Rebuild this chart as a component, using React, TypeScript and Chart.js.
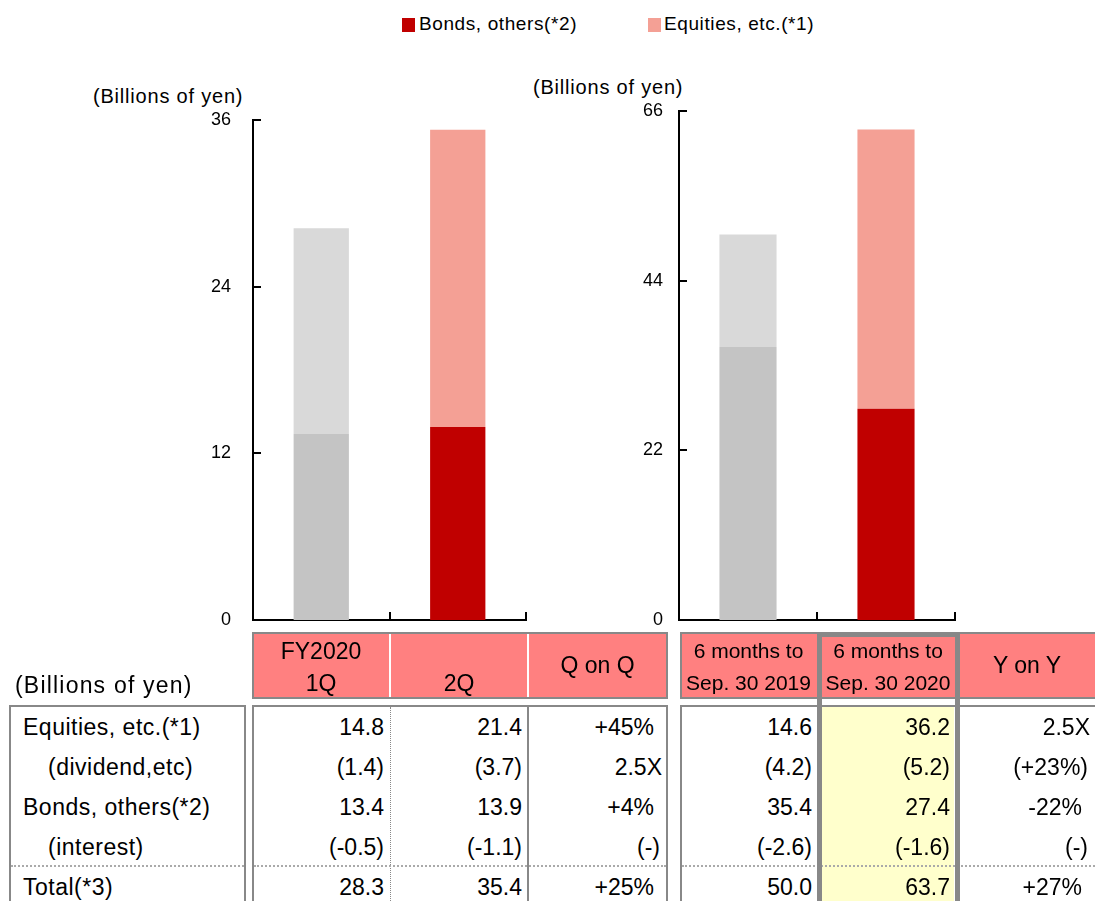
import React, { useEffect, useRef } from "react";
import { Chart, registerables } from "chart.js";

Chart.register(...registerables);

// ---------- data ----------
const legendLabels = ["Bonds, others(*2)", "Equities, etc.(*1)"];
const unitLabel = "(Billions of yen)";

const quarterLabels = ["FY2020 1Q", "2Q"];
const quarterBonds = [13.4, 13.9];
const quarterEquities = [14.8, 21.4];
const quarterMax = 36;
const quarterStep = 12;

const halfLabels = ["6 months to Sep. 30 2019", "6 months to Sep. 30 2020"];
const halfBonds = [35.4, 27.4];
const halfEquities = [14.6, 36.2];
const halfMax = 66;
const halfStep = 22;

const rowLabels = ["Equities, etc.(*1)", "(dividend,etc)", "Bonds, others(*2)", "(interest)", "Total(*3)"];
const rowIndented = [false, true, false, true, false];
const col1Q = ["14.8", "(1.4)", "13.4", "(-0.5)", "28.3"];
const col2Q = ["21.4", "(3.7)", "13.9", "(-1.1)", "35.4"];
const colQoQ = ["+45%", "2.5X", "+4%", "(-)", "+25%"];
const col2019 = ["14.6", "(4.2)", "35.4", "(-2.6)", "50.0"];
const col2020 = ["36.2", "(5.2)", "27.4", "(-1.6)", "63.7"];
const colYoY = ["2.5X", "(+23%)", "-22%", "(-)", "+27%"];
const headerLines = [
  ["FY2020", "1Q"],
  ["", "2Q"],
  ["Q on Q"],
  ["6 months to", "Sep. 30 2019"],
  ["6 months to", "Sep. 30 2020"],
  ["Y on Y"],
];

// ---------- style ----------
const FONT = '"Liberation Sans", Arial, Helvetica, sans-serif';
const GREY_DARK = "#C4C4C4";
const GREY_LIGHT = "#D9D9D9";
const RED = "#C00000";
const PINK = "#F4A095";
const HEADER_PINK = "#FF8080";
const BORDER = "#888888";
const YELLOW = "#FFFFCC";

const innerTicks = {
  id: "innerTicks",
  afterDraw(chart: any) {
    const { ctx, chartArea: a, scales } = chart;
    const ys = scales.y;
    const xs = scales.x;
    ctx.save();
    ctx.strokeStyle = "#000";
    ctx.lineWidth = 2;
    ctx.beginPath();
    ys.ticks.forEach((_t: any, i: number) => {
      const py = Math.round(ys.getPixelForTick(i));
      ctx.moveTo(a.left, py);
      ctx.lineTo(a.left + 8, py);
    });
    const n = chart.data.labels.length;
    const w = (a.right - a.left) / n;
    for (let i = 0; i < n; i++) {
      const px = Math.round(xs.getPixelForValue(i) + w / 2);
      ctx.moveTo(px, a.bottom);
      ctx.lineTo(px, a.bottom - 8);
    }
    ctx.stroke();
    ctx.restore();
  },
};

type ChartProps = {
  labels: string[];
  bonds: number[];
  equities: number[];
  bondColors: string[];
  equityColors: string[];
  max: number;
  step: number;
  left: number;
  top: number;
  width: number;
  height: number;
  axisWidth: number;
  tickPad: number;
  padTop: number;
  padRight: number;
  barPct: number;
};

function StackedChart(p: ChartProps) {
  const ref = useRef<HTMLCanvasElement>(null);
  useEffect(() => {
    const chart = new Chart(ref.current as HTMLCanvasElement, {
      type: "bar",
      data: {
        labels: p.labels,
        datasets: [
          {
            label: legendLabels[0],
            data: p.bonds,
            backgroundColor: p.bondColors,
            borderWidth: 0,
            barPercentage: p.barPct,
            categoryPercentage: 1,
          },
          {
            label: legendLabels[1],
            data: p.equities,
            backgroundColor: p.equityColors,
            borderWidth: 0,
            barPercentage: p.barPct,
            categoryPercentage: 1,
          },
        ],
      },
      options: {
        responsive: false,
        maintainAspectRatio: false,
        animation: false,
        layout: { padding: { top: p.padTop, right: p.padRight, left: 0, bottom: 0 } },
        plugins: { legend: { display: false }, tooltip: { enabled: false } },
        scales: {
          x: {
            stacked: true,
            z: 1,
            grid: { display: false, drawTicks: false },
            border: { display: true, color: "#000", width: 2 },
            ticks: { display: false },
            afterFit: (s: any) => {
              s.height = 15;
              s.paddingLeft = 0;
              s.paddingRight = 0;
            },
          },
          y: {
            stacked: true,
            z: 1,
            min: 0,
            max: p.max,
            ticks: {
              stepSize: p.step,
              padding: p.tickPad,
              color: "#000",
              font: { family: FONT, size: 18 },
            },
            grid: { display: false, drawTicks: false },
            border: { display: true, color: "#000", width: 2 },
            afterFit: (s: any) => {
              s.width = p.axisWidth;
              s.paddingTop = 0;
              s.paddingBottom = 0;
            },
          },
        },
      } as any,
      plugins: [innerTicks],
    });
    return () => chart.destroy();
  }, []);
  return (
    <canvas
      ref={ref}
      width={p.width}
      height={p.height}
      style={{ position: "absolute", left: p.left, top: p.top, width: p.width, height: p.height }}
    />
  );
}

type TProps = { x: number; y: number; text: string; align?: "left" | "right" | "center"; size?: number; ls?: number };
function T({ x, y, text, align = "left", size = 23, ls = 0 }: TProps) {
  const lh = Math.round(size * 1.15);
  const w = 400;
  const left = align === "left" ? x : align === "right" ? x - w : x - w / 2;
  return (
    <div
      style={{
        position: "absolute",
        left,
        top: y - lh / 2,
        width: w,
        height: lh,
        lineHeight: lh + "px",
        fontSize: size,
        textAlign: align,
        whiteSpace: "pre",
        letterSpacing: ls,
        color: "#000",
      }}
    >
      {text}
    </div>
  );
}

function Box(props: { l: number; t: number; w: number; h: number; style?: React.CSSProperties }) {
  return (
    <div
      style={{
        position: "absolute",
        left: props.l,
        top: props.t,
        width: props.w,
        height: props.h,
        boxSizing: "border-box",
        ...props.style,
      }}
    />
  );
}

export default function App() {
  const columns = [col1Q, col2Q, colQoQ, col2019, col2020, colYoY];
  const ratioCol = [false, false, true, false, false, true];
  const colRight = [384, 522, 662, 812, 950, 1090];
  const headerCenters = [321, 459, 597.5, 748.5, 888, 1027];
  const rowY = [727, 767, 807, 847, 887];

  const offsetFor = (v: string, ratio: boolean) => {
    if (!ratio) return 0;
    if (v.endsWith("%")) return 8;
    if (v.endsWith(")")) return 2;
    return 0;
  };

  return (
    <div
      style={{
        position: "absolute",
        left: 0,
        top: 0,
        width: 1095,
        height: 901,
        overflow: "hidden",
        background: "#fff",
        fontFamily: FONT,
      }}
    >
      {/* legend */}
      <Box l={402} t={18} w={13} h={14} style={{ background: RED }} />
      <T x={419} y={24} text={legendLabels[0]} size={19} ls={0.6} />
      <Box l={648} t={18} w={13} h={14} style={{ background: PINK }} />
      <T x={664} y={24} text={legendLabels[1]} size={19} ls={0.6} />

      {/* unit labels */}
      <T x={93} y={96} text={unitLabel} size={20} ls={0.8} />
      <T x={533} y={87} text={unitLabel} size={20} ls={0.8} />

      <StackedChart
        labels={quarterLabels}
        bonds={quarterBonds}
        equities={quarterEquities}
        bondColors={[GREY_DARK, RED]}
        equityColors={[GREY_LIGHT, PINK]}
        max={quarterMax}
        step={quarterStep}
        left={163}
        top={105}
        width={380}
        height={530}
        axisWidth={90}
        tickPad={22}
        padTop={15}
        padRight={17}
        barPct={0.405}
      />
      <StackedChart
        labels={halfLabels}
        bonds={halfBonds}
        equities={halfEquities}
        bondColors={[GREY_DARK, RED]}
        equityColors={[GREY_LIGHT, PINK]}
        max={halfMax}
        step={halfStep}
        left={589}
        top={96}
        width={385}
        height={539}
        axisWidth={90}
        tickPad={16}
        padTop={15}
        padRight={19}
        barPct={0.414}
      />

      {/* table header */}
      <Box l={252} t={632} w={416} h={67} style={{ background: HEADER_PINK, border: `2px solid ${BORDER}` }} />
      <Box l={389} t={634} w={2} h={63} style={{ background: "#fff" }} />
      <Box l={527} t={634} w={2} h={63} style={{ background: "#fff" }} />
      <Box l={680} t={632} w={430} h={67} style={{ background: HEADER_PINK, border: `2px solid ${BORDER}` }} />
      <T x={15} y={685} text={unitLabel} size={23} ls={1.2} />

      {/* table body boxes */}
      <Box l={9} t={705} w={237} h={300} style={{ border: `2px solid ${BORDER}` }} />
      <Box l={252} t={705} w={416} h={300} style={{ border: `2px solid ${BORDER}` }} />
      <Box l={680} t={705} w={430} h={300} style={{ border: `2px solid ${BORDER}` }} />
      <Box l={822} t={707} w={132} h={200} style={{ background: YELLOW }} />
      <Box l={390} t={707} w={1} h={200} style={{ borderLeft: `1px dotted ${BORDER}` }} />
      <Box l={527} t={707} w={2} h={200} style={{ background: BORDER }} />
      <Box l={11} t={865} w={233} h={2} style={{ borderTop: "2px dotted #aaa" }} />
      <Box l={254} t={865} w={412} h={2} style={{ borderTop: "2px dotted #aaa" }} />
      <Box l={682} t={865} w={420} h={2} style={{ borderTop: "2px dotted #aaa" }} />
      <Box l={817} t={632} w={143} h={300} style={{ border: `5px solid ${BORDER}` }} />

      {/* header text */}
      {headerLines.map((lines, i) => {
        const size = i === 3 || i === 4 ? 21 : 23;
        if (lines.length === 1) {
          return <T key={"h" + i} x={headerCenters[i]} y={665} text={lines[0]} align="center" size={size} />;
        }
        return (
          <React.Fragment key={"h" + i}>
            <T x={headerCenters[i]} y={651} text={lines[0]} align="center" size={size} />
            <T x={headerCenters[i]} y={683} text={lines[1]} align="center" size={size} />
          </React.Fragment>
        );
      })}

      {/* row labels */}
      {rowLabels.map((lab, r) => (
        <T key={"r" + r} x={rowIndented[r] ? 48 : 23} y={rowY[r]} text={lab} size={23} ls={0.5} />
      ))}

      {/* values */}
      {columns.map((col, c) =>
        col.map((v, r) => (
          <T
            key={"v" + c + "-" + r}
            x={colRight[c] - offsetFor(v, ratioCol[c])}
            y={rowY[r]}
            text={v}
            align="right"
            size={23}
          />
        ))
      )}
    </div>
  );
}
